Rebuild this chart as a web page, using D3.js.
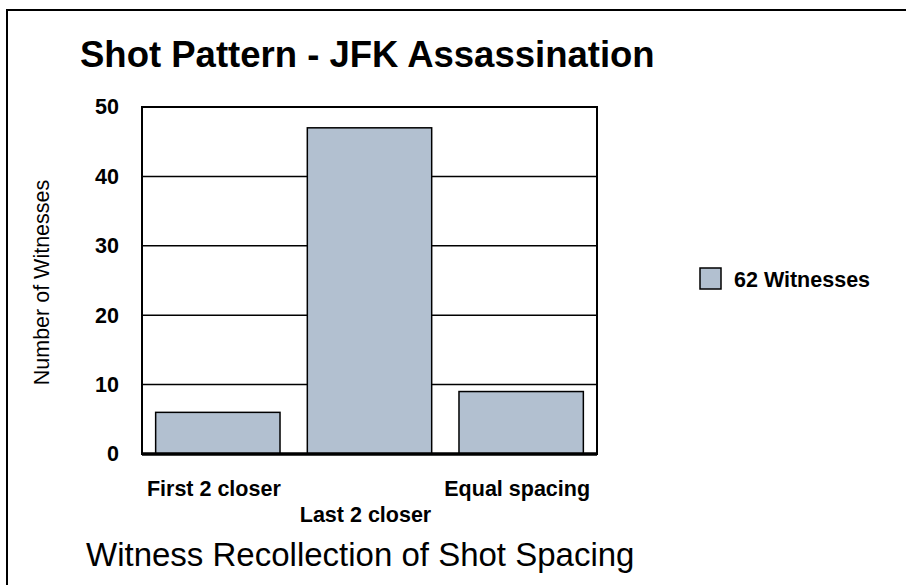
<!DOCTYPE html>
<html lang="en">
<head>
<meta charset="utf-8">
<title>Shot Pattern - JFK Assassination</title>
<script src="https://cdn.jsdelivr.net/npm/d3@7"></script>
<style>
  body { margin: 0; background: #fff; }
  svg { display: block; font-family: "Liberation Sans", Arial, sans-serif; }
  .grid line { stroke: #000; stroke-width: 1.5px; }
  .bar { fill: #b2c0d0; stroke: #000; stroke-width: 1.5px; }
</style>
</head>
<body>
<div id="chart"></div>
<script>
// data
var categories = ["First 2 closer", "Last 2 closer", "Equal spacing"];
var witnesses = [6, 47, 9];
var yTicks = [0, 10, 20, 30, 40, 50];
var seriesName = "62 Witnesses";

var width = 906, height = 585;
var margin = { top: 107, right: 309, bottom: 131, left: 142 };
var w = width - margin.left - margin.right,
    h = height - margin.top - margin.bottom;

var svg = d3.select("#chart").append("svg")
  .attr("width", width)
  .attr("height", height);

// outer frame (runs off the right and bottom edge)
svg.append("rect")
  .attr("x", 7).attr("y", 10)
  .attr("width", 940).attr("height", 640)
  .attr("fill", "none").attr("stroke", "#000").attr("stroke-width", 2);

svg.append("text")
  .attr("x", 80).attr("y", 67)
  .attr("font-size", 36.5).attr("font-weight", "bold")
  .text("Shot Pattern - JFK Assassination");

var g = svg.append("g")
  .attr("transform", "translate(" + margin.left + "," + margin.top + ")");

var x = d3.scaleBand().domain(categories).range([0, w]).paddingInner(0.18).paddingOuter(0.09);
var y = d3.scaleLinear().domain([0, 50]).range([h, 0]);

// gridlines
g.append("g").attr("class", "grid")
  .selectAll("line").data(yTicks.slice(1, -1)).join("line")
  .attr("x1", 0).attr("x2", w)
  .attr("y1", function (d) { return y(d); })
  .attr("y2", function (d) { return y(d); });

// bars
g.selectAll(".bar").data(witnesses).join("rect")
  .attr("class", "bar")
  .attr("x", function (d, i) { return x(categories[i]); })
  .attr("width", x.bandwidth())
  .attr("y", function (d) { return y(d); })
  .attr("height", function (d) { return h - y(d); });

// plot frame
g.append("rect")
  .attr("width", w).attr("height", h)
  .attr("fill", "none").attr("stroke", "#000").attr("stroke-width", 2);

// thick baseline
g.append("line")
  .attr("x1", 0).attr("x2", w)
  .attr("y1", y(0)).attr("y2", y(0))
  .attr("stroke", "#000").attr("stroke-width", 3.5);

// y tick labels
var yAxis = g.append("g")
  .call(d3.axisLeft(y).tickValues(yTicks).tickSize(0).tickPadding(23));
yAxis.select(".domain").remove();
yAxis.selectAll("text")
  .attr("font-family", "Liberation Sans, Arial, sans-serif")
  .attr("font-size", 21.5).attr("font-weight", "bold").attr("fill", "#000");

// x labels, staggered
g.selectAll(".xlab").data(categories).join("text")
  .attr("class", "xlab")
  .attr("x", function (d) { return x(d) + x.bandwidth() / 2 - 4; })
  .attr("y", function (d, i) { return h + (i % 2 ? 68 : 42); })
  .attr("text-anchor", "middle")
  .attr("font-size", 21.5).attr("font-weight", "bold")
  .text(function (d) { return d; });

// y axis title
svg.append("text")
  .attr("transform", "translate(49," + (margin.top + h / 2 + 2) + ") rotate(-90)")
  .attr("text-anchor", "middle")
  .attr("font-size", 21.5)
  .text("Number of Witnesses");

// x axis title
svg.append("text")
  .attr("x", 86).attr("y", 566)
  .attr("font-size", 33)
  .text("Witness Recollection of Shot Spacing");

// legend
var lg = svg.append("g").attr("transform", "translate(700,268)");
lg.append("rect")
  .attr("width", 21).attr("height", 21)
  .attr("class", "bar");
lg.append("text")
  .attr("x", 34).attr("y", 19)
  .attr("font-size", 21.5).attr("font-weight", "bold")
  .text(seriesName);
</script>
</body>
</html>
